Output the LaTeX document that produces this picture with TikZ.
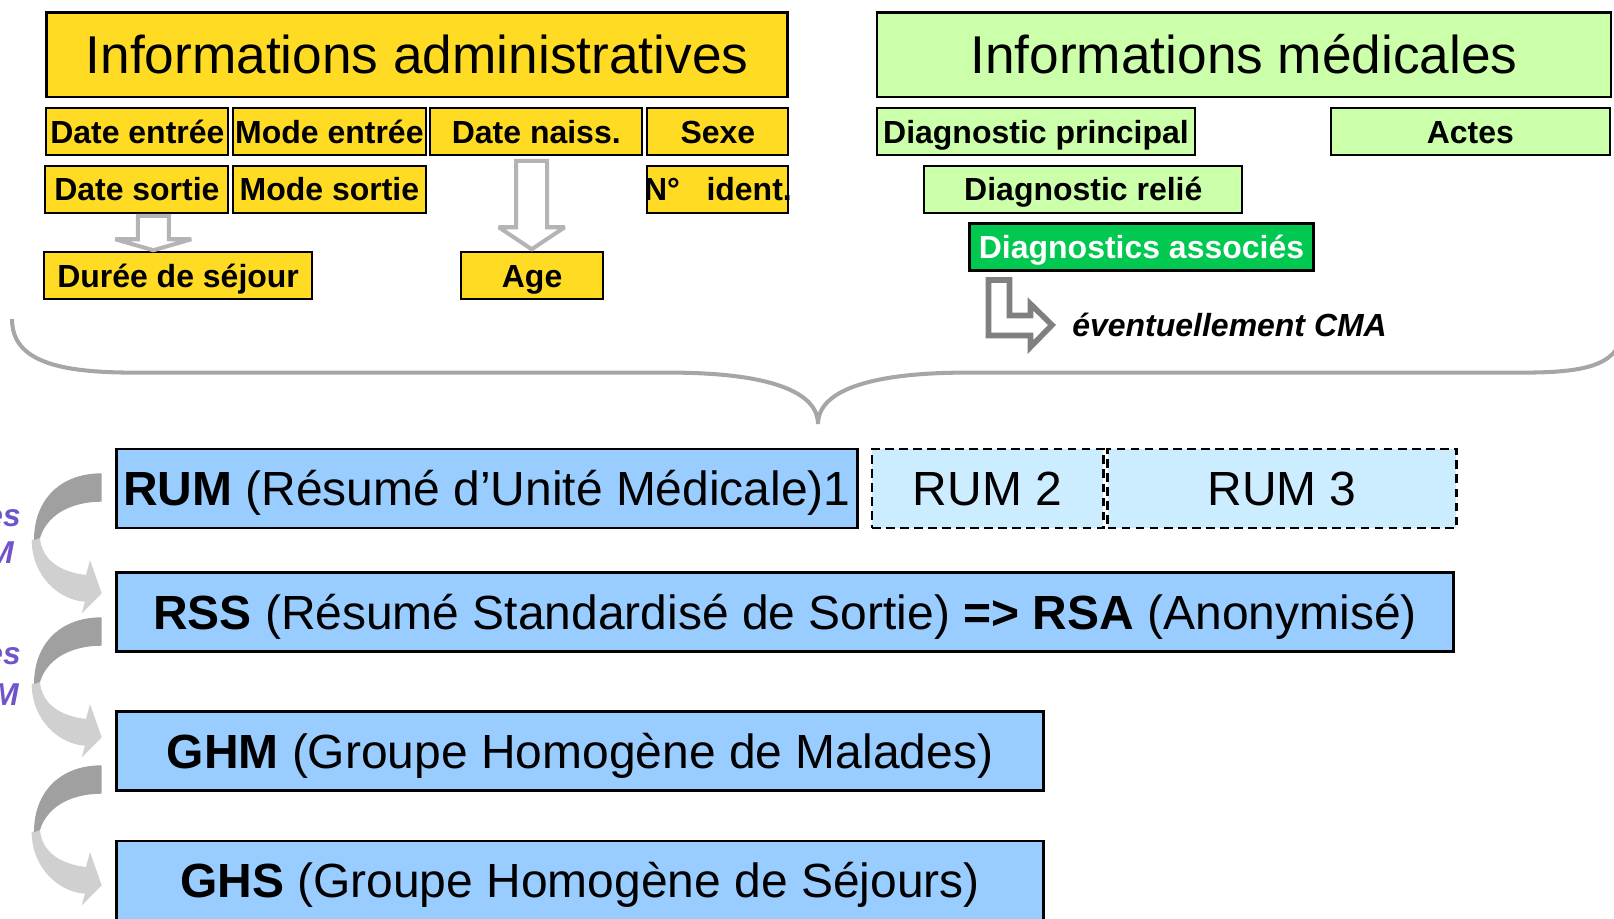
\documentclass[tikz,border=0pt]{standalone}
\usepackage{fontspec}
\setmainfont{Liberation Sans}
\usetikzlibrary{calc}

\definecolor{adminyellow}{RGB}{255,219,36}
\definecolor{medgreen}{RGB}{204,255,170}
\definecolor{assocgreen}{RGB}{0,200,80}
\definecolor{rumblue}{RGB}{153,204,255}
\definecolor{rumpale}{RGB}{204,236,255}
\definecolor{hollowgray}{RGB}{180,180,180}
\definecolor{cmagray}{RGB}{128,128,128}
\definecolor{bracegray}{RGB}{166,166,166}
\definecolor{ribbondark}{RGB}{160,160,160}
\definecolor{ribbonlight}{RGB}{208,208,208}
\definecolor{labelviolet}{RGB}{112,84,200}

\begin{document}
\begin{tikzpicture}[x=0.02cm, y=-0.02cm,
  titlebox/.style={draw, line width=1.4pt, inner sep=0pt, minimum height=1.69cm, text height=21.7pt, text depth=0pt, font=\fontsize{30.3}{36}\selectfont},
  fieldbox/.style={draw, line width=1.2pt, inner sep=0pt, minimum height=0.94cm, text height=13pt, text depth=0pt, font=\bfseries\fontsize{18.2}{21}\selectfont},
  admin/.style={fieldbox, fill=adminyellow},
  medic/.style={fieldbox, fill=medgreen},
  resume/.style={draw, fill=rumblue, line width=1.4pt, inner sep=0pt, minimum height=1.58cm, text height=19.5pt, text depth=0pt, font=\fontsize{27.3}{32}\selectfont},
  resumedash/.style={resume, fill=rumpale, dash pattern=on 5pt off 3pt},
  hollow/.style={draw=hollowgray, fill=white, line width=2.3pt, miter limit=2},
  sidelabel/.style={anchor=east, inner sep=0pt, text=labelviolet, font=\bfseries\itshape\fontsize{18}{21}\selectfont}]

\useasboundingbox (0,0) rectangle (1614,919);

% accolade
\coordinate (bracetip) at (818,424);
\draw[bracegray, line width=2.3pt] (12,319) .. controls (12,362) and (60,372.6) .. (134,372.6) -- (669,372.6)
  .. controls (770,372.6) and (818,392) .. (bracetip)
  .. controls (818,392) and (866,372.6) .. (967,372.6) -- (1523,372.6)
  .. controls (1597,372.6) and (1624,362) .. (1624,319);

\node[titlebox, fill=adminyellow, minimum width=14.82cm] (admin) at (417,54.6) {Informations administratives};
\node[titlebox, fill=medgreen, minimum width=14.68cm] (medic) at (1244,54.6) {Informations médicales};

\node[admin, minimum width=3.64cm] (dentree) at (137.4,131.7) {Date entrée};
\node[admin, minimum width=3.87cm] (mentree) at (329.4,131.7) {Mode entrée};
\node[admin, minimum width=4.24cm] (dnaiss) at (536.3,131.7) {Date naiss.};
\node[admin, minimum width=2.82cm] (sexe) at (717.9,131.7) {Sexe};
\node[admin, minimum width=3.66cm] (dsortie) at (136.9,189.4) {Date sortie};
\node[admin, minimum width=3.87cm] (msortie) at (329.4,189.4) {Mode sortie};
\node[admin, minimum width=2.82cm] (nident) at (717.9,189.4) {\makebox[0pt]{N°\ \ \ ident.}};
\node[admin, minimum width=5.35cm] (duree) at (178.1,275.8) {Durée de séjour};
\node[admin, minimum width=2.84cm] (age) at (532.1,275.8) {Age};

\node[medic, minimum width=6.36cm] (dprinc) at (1036,131.7) {Diagnostic principal};
\node[medic, minimum width=5.58cm] (actes) at (1470.4,131.7) {Actes};
\node[medic, minimum width=6.36cm] (drelie) at (1083.3,189.4) {Diagnostic relié};
\node[fieldbox, fill=assocgreen, text=white, minimum width=6.88cm] (dassoc) at (1141.5,247) {Diagnostics associés};
\node[anchor=west, inner sep=0pt, font=\bfseries\itshape\fontsize{18.2}{21}\selectfont] (cma) at (1072,325) {éventuellement CMA};

\node[resume, minimum width=14.82cm] (rum) at (486.9,488.4) {\textbf{RUM} (Résumé d’Unité Médicale)1};
\node[resumedash, minimum width=4.63cm] (rum2) at (987.6,488.4) {RUM 2};
\node[resumedash, minimum width=6.98cm] (rum3) at (1282,488.4) {RUM 3};
\node[resume, minimum width=26.74cm] (rss) at (784.9,611.9) {\textbf{RSS} (Résumé Standardisé de Sortie) \textbf{=> RSA} (Anonymisé)};
\node[resume, minimum width=18.55cm] (ghm) at (580,750.9) {\textbf{GHM} (Groupe Homogène de Malades)};
\node[resume, minimum width=18.55cm] (ghs) at (580,880.5) {\textbf{GHS} (Groupe Homogène de Séjours)};

\node[sidelabel] (lbl1) at (21,518) {es};
\node[sidelabel] (lbl2) at (14,553) {M};
\node[sidelabel] (lbl3) at (21,656) {es};
\node[sidelabel] (lbl4) at (19,695) {M};

% fleches creuses
\coordinate (s1) at ($(dsortie.south)+(16.4,2)$);
\coordinate (t1) at ($(s1 |- duree.north)+(0,-1)$);
\draw[hollow] ($(s1)+(-15.5,0)$) -- ($(s1)+(15.5,0)$) -- ($(t1)+(15.5,-11)$) -- ($(t1)+(38,-11)$)
  -- (t1) -- ($(t1)+(-38,-11)$) -- ($(t1)+(-15.5,-11)$) -- cycle;

\coordinate (s2) at ($(dnaiss.south)+(-4.6,4.6)$);
\coordinate (t2) at ($(s2 |- age.north)+(0,-2)$);
\draw[hollow] ($(s2)+(-15.5,0)$) -- ($(s2)+(15.5,0)$) -- ($(t2)+(15.5,-22)$) -- ($(t2)+(33,-22)$)
  -- (t2) -- ($(t2)+(-33,-22)$) -- ($(t2)+(-15.5,-22)$) -- cycle;

\draw[draw=cmagray, fill=white, line width=3.2pt] ($(cma.west)+(-83.5,-45)$) -- ($(cma.west)+(-62.5,-45)$)
  -- ($(cma.west)+(-62.5,-9.5)$) -- ($(cma.west)+(-41.5,-9.5)$) -- ($(cma.west)+(-41.5,-21)$)
  -- ($(cma.west)+(-20,0)$) -- ($(cma.west)+(-41.5,22)$) -- ($(cma.west)+(-41.5,10.5)$)
  -- ($(cma.west)+(-83.5,10.5)$) -- cycle;

% fleches courbes
\begin{scope}[shift={(0,0)}]
\fill[ribbonlight] (31.7,540) .. controls (31.7,575) and (58,600) .. (85,601.7) -- (81.7,613.3) -- (101.7,593.3) -- (90,560) -- (86,575) .. controls (60,572) and (42,560) .. (40,538) -- cycle;
\fill[ribbondark] (101.7,473.3) .. controls (60,473.3) and (34,500) .. (34,540) -- (40,538) .. controls (48,512) and (75,501.7) .. (101.7,501.7) -- cycle;
\end{scope}
\begin{scope}[shift={(0,144)}]
\fill[ribbonlight] (31.7,540) .. controls (31.7,575) and (58,600) .. (85,601.7) -- (81.7,613.3) -- (101.7,593.3) -- (90,560) -- (86,575) .. controls (60,572) and (42,560) .. (40,538) -- cycle;
\fill[ribbondark] (101.7,473.3) .. controls (60,473.3) and (34,500) .. (34,540) -- (40,538) .. controls (48,512) and (75,501.7) .. (101.7,501.7) -- cycle;
\end{scope}
\begin{scope}[shift={(0,292)}]
\fill[ribbonlight] (31.7,540) .. controls (31.7,575) and (58,600) .. (85,601.7) -- (81.7,613.3) -- (101.7,593.3) -- (90,560) -- (86,575) .. controls (60,572) and (42,560) .. (40,538) -- cycle;
\fill[ribbondark] (101.7,473.3) .. controls (60,473.3) and (34,500) .. (34,540) -- (40,538) .. controls (48,512) and (75,501.7) .. (101.7,501.7) -- cycle;
\end{scope}

\end{tikzpicture}
\end{document}
